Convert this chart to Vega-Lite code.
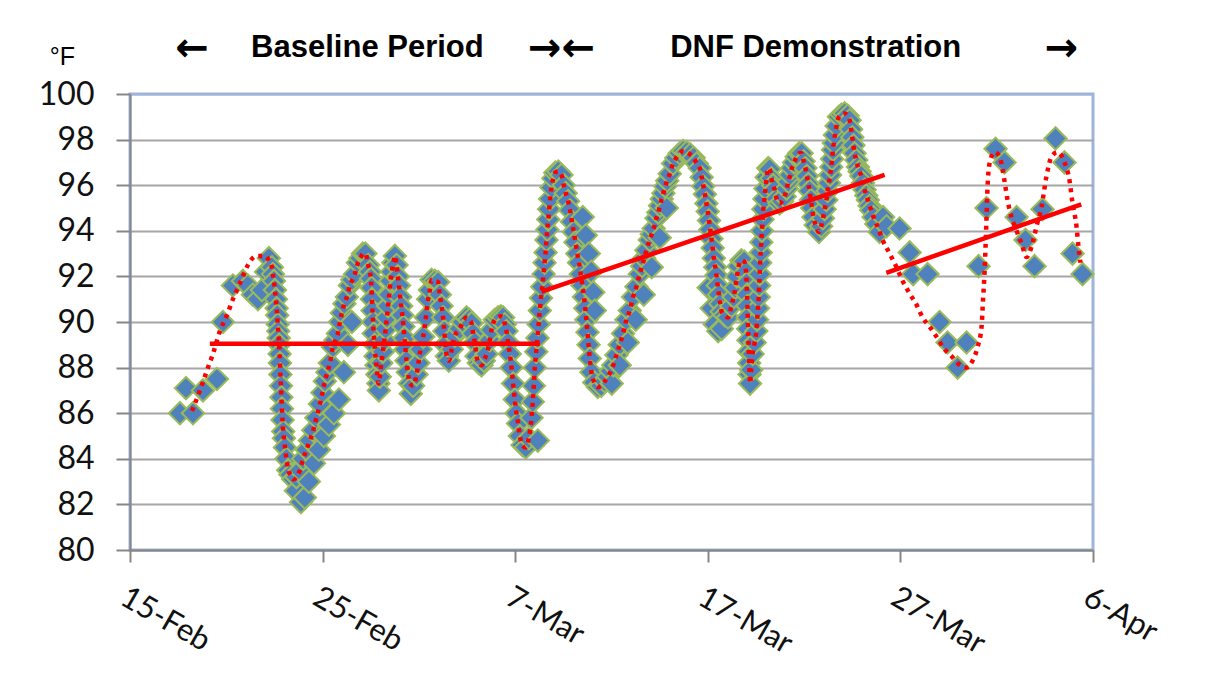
{
"$schema": "https://vega.github.io/schema/vega-lite/v6.json",
"width": 963,
"height": 456,
"autosize": {"type": "none"},
"padding": {"left": 130, "top": 94, "right": 122, "bottom": 144},
"background": "white",
"config": {
  "view": {"stroke": "#9db5d9", "strokeWidth": 3},
  "axis": {"domainColor": "#868686", "domainWidth": 2, "tickColor": "#868686", "tickWidth": 2, "labelFont": "Lato", "labelColor": "#111111", "labelOverlap": false, "labelBound": false}
},
"datasets": {
"temps": [
{"t":"2011-02-17T14:15","v":86.0,"kind":"point"},
{"t":"2011-02-17T21:45","v":87.1,"kind":"point"},
{"t":"2011-02-18T05:15","v":86.1,"kind":"line"},
{"t":"2011-02-18T06:30","v":86.0,"kind":"point"},
{"t":"2011-02-18T15:10","v":87.0,"kind":"line"},
{"t":"2011-02-18T18:55","v":87.0,"kind":"point"},
{"t":"2011-02-19T01:10","v":88.0,"kind":"line"},
{"t":"2011-02-19T07:20","v":88.6,"kind":"line"},
{"t":"2011-02-19T12:20","v":87.5,"kind":"point"},
{"t":"2011-02-19T16:05","v":89.6,"kind":"line"},
{"t":"2011-02-19T19:50","v":90.0,"kind":"point"},
{"t":"2011-02-20T00:50","v":90.3,"kind":"line"},
{"t":"2011-02-20T08:15","v":91.6,"kind":"point"},
{"t":"2011-02-20T08:15","v":91.0,"kind":"line"},
{"t":"2011-02-20T14:30","v":91.5,"kind":"line"},
{"t":"2011-02-20T20:45","v":91.8,"kind":"point"},
{"t":"2011-02-20T20:45","v":92.0,"kind":"line"},
{"t":"2011-02-21T02:55","v":91.6,"kind":"point"},
{"t":"2011-02-21T02:55","v":92.5,"kind":"line"},
{"t":"2011-02-21T09:10","v":91.2,"kind":"point"},
{"t":"2011-02-21T14:10","v":92.9,"kind":"line"},
{"t":"2011-02-21T15:25","v":91.0,"kind":"point"},
{"t":"2011-02-21T20:25","v":91.4,"kind":"point"},
{"t":"2011-02-22T00:10","v":92.9,"kind":"line"},
{"t":"2011-02-22T01:25","v":92.2,"kind":"point"},
{"t":"2011-02-22T05:05","v":92.8,"kind":"point"},
{"t":"2011-02-22T05:05","v":92.7,"kind":"line"},
{"t":"2011-02-22T08:50","v":92.4,"kind":"both"},
{"t":"2011-02-22T10:05","v":92.1,"kind":"both"},
{"t":"2011-02-22T11:20","v":91.8,"kind":"both"},
{"t":"2011-02-22T12:35","v":91.4,"kind":"both"},
{"t":"2011-02-22T13:50","v":91.0,"kind":"both"},
{"t":"2011-02-22T14:45","v":90.6,"kind":"both"},
{"t":"2011-02-22T15:25","v":90.3,"kind":"both"},
{"t":"2011-02-22T16:05","v":89.9,"kind":"both"},
{"t":"2011-02-22T16:40","v":89.6,"kind":"both"},
{"t":"2011-02-22T17:20","v":89.3,"kind":"both"},
{"t":"2011-02-22T17:55","v":89.0,"kind":"both"},
{"t":"2011-02-22T18:25","v":88.6,"kind":"both"},
{"t":"2011-02-22T18:50","v":88.2,"kind":"both"},
{"t":"2011-02-22T19:25","v":87.7,"kind":"both"},
{"t":"2011-02-22T20:05","v":87.2,"kind":"both"},
{"t":"2011-02-22T20:40","v":86.7,"kind":"both"},
{"t":"2011-02-22T21:20","v":86.2,"kind":"both"},
{"t":"2011-02-22T22:05","v":85.7,"kind":"both"},
{"t":"2011-02-22T22:55","v":85.2,"kind":"both"},
{"t":"2011-02-22T23:50","v":84.9,"kind":"both"},
{"t":"2011-02-23T01:05","v":84.5,"kind":"both"},
{"t":"2011-02-23T02:55","v":84.0,"kind":"both"},
{"t":"2011-02-23T05:10","v":83.5,"kind":"both"},
{"t":"2011-02-23T07:55","v":83.3,"kind":"both"},
{"t":"2011-02-23T11:25","v":83.1,"kind":"both"},
{"t":"2011-02-23T14:45","v":82.6,"kind":"point"},
{"t":"2011-02-23T15:20","v":83.2,"kind":"both"},
{"t":"2011-02-23T19:45","v":83.5,"kind":"both"},
{"t":"2011-02-23T21:00","v":82.1,"kind":"point"},
{"t":"2011-02-23T23:50","v":84.0,"kind":"both"},
{"t":"2011-02-24T01:55","v":82.3,"kind":"point"},
{"t":"2011-02-24T04:05","v":84.4,"kind":"both"},
{"t":"2011-02-24T06:55","v":83.0,"kind":"point"},
{"t":"2011-02-24T08:10","v":84.8,"kind":"both"},
{"t":"2011-02-24T12:20","v":85.25,"kind":"both"},
{"t":"2011-02-24T13:10","v":83.8,"kind":"point"},
{"t":"2011-02-24T16:15","v":85.8,"kind":"both"},
{"t":"2011-02-24T19:25","v":84.4,"kind":"point"},
{"t":"2011-02-24T20:40","v":86.4,"kind":"both"},
{"t":"2011-02-24T23:45","v":86.9,"kind":"both"},
{"t":"2011-02-25T01:35","v":85.0,"kind":"point"},
{"t":"2011-02-25T02:50","v":87.4,"kind":"both"},
{"t":"2011-02-25T06:00","v":87.8,"kind":"both"},
{"t":"2011-02-25T07:50","v":85.5,"kind":"point"},
{"t":"2011-02-25T09:05","v":88.2,"kind":"both"},
{"t":"2011-02-25T12:50","v":88.9,"kind":"both"},
{"t":"2011-02-25T14:05","v":86.0,"kind":"point"},
{"t":"2011-02-25T15:55","v":89.2,"kind":"both"},
{"t":"2011-02-25T19:05","v":89.5,"kind":"both"},
{"t":"2011-02-25T20:20","v":86.6,"kind":"point"},
{"t":"2011-02-25T21:35","v":90.0,"kind":"both"},
{"t":"2011-02-26T00:00","v":90.4,"kind":"both"},
{"t":"2011-02-26T02:30","v":87.8,"kind":"point"},
{"t":"2011-02-26T03:10","v":90.8,"kind":"both"},
{"t":"2011-02-26T06:15","v":91.1,"kind":"both"},
{"t":"2011-02-26T07:30","v":89.0,"kind":"point"},
{"t":"2011-02-26T10:00","v":91.6,"kind":"both"},
{"t":"2011-02-26T12:30","v":90.0,"kind":"point"},
{"t":"2011-02-26T13:05","v":91.85,"kind":"both"},
{"t":"2011-02-26T16:15","v":92.1,"kind":"both"},
{"t":"2011-02-26T20:00","v":92.6,"kind":"both"},
{"t":"2011-02-26T23:05","v":92.8,"kind":"both"},
{"t":"2011-02-27T02:10","v":93.0,"kind":"both"},
{"t":"2011-02-27T05:20","v":93.0,"kind":"both"},
{"t":"2011-02-27T08:50","v":92.5,"kind":"both"},
{"t":"2011-02-27T10:55","v":92.2,"kind":"both"},
{"t":"2011-02-27T12:10","v":91.9,"kind":"both"},
{"t":"2011-02-27T12:55","v":91.5,"kind":"both"},
{"t":"2011-02-27T13:30","v":91.0,"kind":"both"},
{"t":"2011-02-27T14:10","v":90.5,"kind":"both"},
{"t":"2011-02-27T14:55","v":90.0,"kind":"both"},
{"t":"2011-02-27T15:45","v":89.5,"kind":"both"},
{"t":"2011-02-27T16:45","v":89.0,"kind":"both"},
{"t":"2011-02-27T17:55","v":88.5,"kind":"both"},
{"t":"2011-02-27T19:10","v":88.1,"kind":"both"},
{"t":"2011-02-27T20:15","v":87.7,"kind":"both"},
{"t":"2011-02-27T21:30","v":87.3,"kind":"both"},
{"t":"2011-02-27T22:05","v":87.0,"kind":"point"},
{"t":"2011-02-27T23:20","v":87.6,"kind":"both"},
{"t":"2011-02-28T01:15","v":88.2,"kind":"both"},
{"t":"2011-02-28T03:05","v":88.7,"kind":"both"},
{"t":"2011-02-28T05:00","v":89.2,"kind":"both"},
{"t":"2011-02-28T06:35","v":89.7,"kind":"both"},
{"t":"2011-02-28T08:05","v":90.2,"kind":"both"},
{"t":"2011-02-28T09:35","v":90.7,"kind":"both"},
{"t":"2011-02-28T11:05","v":91.2,"kind":"both"},
{"t":"2011-02-28T12:40","v":91.8,"kind":"both"},
{"t":"2011-02-28T14:20","v":92.2,"kind":"both"},
{"t":"2011-02-28T16:10","v":92.6,"kind":"both"},
{"t":"2011-02-28T18:05","v":92.9,"kind":"both"},
{"t":"2011-02-28T20:10","v":92.5,"kind":"both"},
{"t":"2011-02-28T21:45","v":92.0,"kind":"both"},
{"t":"2011-02-28T23:15","v":91.6,"kind":"both"},
{"t":"2011-03-01T00:40","v":91.1,"kind":"both"},
{"t":"2011-03-01T02:00","v":90.7,"kind":"both"},
{"t":"2011-03-01T03:25","v":90.3,"kind":"both"},
{"t":"2011-03-01T04:45","v":89.8,"kind":"both"},
{"t":"2011-03-01T06:00","v":89.3,"kind":"both"},
{"t":"2011-03-01T07:15","v":88.8,"kind":"both"},
{"t":"2011-03-01T08:30","v":88.3,"kind":"both"},
{"t":"2011-03-01T10:15","v":87.8,"kind":"both"},
{"t":"2011-03-01T12:45","v":87.3,"kind":"both"},
{"t":"2011-03-01T13:55","v":86.85,"kind":"point"},
{"t":"2011-03-01T16:50","v":87.2,"kind":"both"},
{"t":"2011-03-01T21:05","v":87.7,"kind":"both"},
{"t":"2011-03-01T23:20","v":88.2,"kind":"both"},
{"t":"2011-03-02T02:05","v":88.8,"kind":"both"},
{"t":"2011-03-02T05:20","v":89.35,"kind":"both"},
{"t":"2011-03-02T08:40","v":90.2,"kind":"both"},
{"t":"2011-03-02T11:30","v":91.0,"kind":"both"},
{"t":"2011-03-02T13:40","v":91.4,"kind":"both"},
{"t":"2011-03-02T15:45","v":91.85,"kind":"both"},
{"t":"2011-03-02T19:50","v":91.8,"kind":"both"},
{"t":"2011-03-03T00:00","v":91.75,"kind":"both"},
{"t":"2011-03-03T02:05","v":91.2,"kind":"both"},
{"t":"2011-03-03T04:15","v":90.7,"kind":"both"},
{"t":"2011-03-03T06:10","v":90.2,"kind":"both"},
{"t":"2011-03-03T07:40","v":89.6,"kind":"both"},
{"t":"2011-03-03T08:55","v":89.0,"kind":"both"},
{"t":"2011-03-03T10:50","v":88.5,"kind":"both"},
{"t":"2011-03-03T13:20","v":88.3,"kind":"both"},
{"t":"2011-03-03T17:00","v":88.8,"kind":"both"},
{"t":"2011-03-03T20:45","v":89.4,"kind":"both"},
{"t":"2011-03-04T03:00","v":89.7,"kind":"both"},
{"t":"2011-03-04T06:45","v":90.0,"kind":"both"},
{"t":"2011-03-04T11:20","v":90.2,"kind":"both"},
{"t":"2011-03-04T14:50","v":90.1,"kind":"both"},
{"t":"2011-03-04T17:35","v":89.95,"kind":"both"},
{"t":"2011-03-04T19:35","v":89.5,"kind":"both"},
{"t":"2011-03-04T21:40","v":89.1,"kind":"both"},
{"t":"2011-03-04T23:50","v":88.5,"kind":"both"},
{"t":"2011-03-05T02:40","v":88.2,"kind":"both"},
{"t":"2011-03-05T06:00","v":88.1,"kind":"both"},
{"t":"2011-03-05T08:55","v":88.3,"kind":"both"},
{"t":"2011-03-05T12:15","v":88.6,"kind":"both"},
{"t":"2011-03-05T16:20","v":89.2,"kind":"both"},
{"t":"2011-03-05T18:30","v":89.65,"kind":"both"},
{"t":"2011-03-05T22:35","v":90.1,"kind":"both"},
{"t":"2011-03-06T02:40","v":90.2,"kind":"both"},
{"t":"2011-03-06T06:05","v":90.25,"kind":"both"},
{"t":"2011-03-06T08:55","v":90.2,"kind":"both"},
{"t":"2011-03-06T11:05","v":89.9,"kind":"both"},
{"t":"2011-03-06T13:10","v":89.6,"kind":"both"},
{"t":"2011-03-06T15:10","v":89.1,"kind":"both"},
{"t":"2011-03-06T17:15","v":88.6,"kind":"both"},
{"t":"2011-03-06T19:25","v":88.0,"kind":"both"},
{"t":"2011-03-06T21:25","v":87.3,"kind":"both"},
{"t":"2011-03-06T23:30","v":86.6,"kind":"both"},
{"t":"2011-03-07T01:35","v":86.0,"kind":"both"},
{"t":"2011-03-07T03:35","v":85.55,"kind":"both"},
{"t":"2011-03-07T05:45","v":85.0,"kind":"both"},
{"t":"2011-03-07T09:05","v":84.6,"kind":"both"},
{"t":"2011-03-07T13:10","v":84.5,"kind":"both"},
{"t":"2011-03-07T16:55","v":84.9,"kind":"both"},
{"t":"2011-03-07T20:20","v":85.8,"kind":"both"},
{"t":"2011-03-07T21:55","v":86.5,"kind":"both"},
{"t":"2011-03-07T23:10","v":87.2,"kind":"both"},
{"t":"2011-03-08T00:25","v":88.0,"kind":"both"},
{"t":"2011-03-08T02:15","v":88.7,"kind":"both"},
{"t":"2011-03-08T03:45","v":89.3,"kind":"both"},
{"t":"2011-03-08T04:10","v":84.8,"kind":"point"},
{"t":"2011-03-08T05:10","v":89.9,"kind":"both"},
{"t":"2011-03-08T06:40","v":90.5,"kind":"both"},
{"t":"2011-03-08T08:10","v":91.05,"kind":"both"},
{"t":"2011-03-08T09:45","v":91.55,"kind":"both"},
{"t":"2011-03-08T11:20","v":92.1,"kind":"both"},
{"t":"2011-03-08T12:35","v":92.6,"kind":"both"},
{"t":"2011-03-08T13:50","v":93.05,"kind":"both"},
{"t":"2011-03-08T15:00","v":93.6,"kind":"both"},
{"t":"2011-03-08T16:05","v":94.05,"kind":"both"},
{"t":"2011-03-08T17:15","v":94.5,"kind":"both"},
{"t":"2011-03-08T18:20","v":94.95,"kind":"both"},
{"t":"2011-03-08T19:30","v":95.4,"kind":"both"},
{"t":"2011-03-08T21:15","v":95.9,"kind":"both"},
{"t":"2011-03-08T23:25","v":96.3,"kind":"both"},
{"t":"2011-03-09T01:55","v":96.55,"kind":"both"},
{"t":"2011-03-09T05:40","v":96.6,"kind":"both"},
{"t":"2011-03-09T09:40","v":96.45,"kind":"both"},
{"t":"2011-03-09T12:30","v":96.0,"kind":"both"},
{"t":"2011-03-09T15:00","v":95.65,"kind":"both"},
{"t":"2011-03-09T17:55","v":95.3,"kind":"both"},
{"t":"2011-03-09T20:25","v":94.9,"kind":"both"},
{"t":"2011-03-09T22:45","v":94.4,"kind":"both"},
{"t":"2011-03-10T01:00","v":93.95,"kind":"both"},
{"t":"2011-03-10T03:05","v":93.5,"kind":"both"},
{"t":"2011-03-10T05:20","v":93.0,"kind":"both"},
{"t":"2011-03-10T07:35","v":92.6,"kind":"both"},
{"t":"2011-03-10T09:40","v":92.1,"kind":"both"},
{"t":"2011-03-10T11:50","v":91.6,"kind":"both"},
{"t":"2011-03-10T12:10","v":94.6,"kind":"point"},
{"t":"2011-03-10T13:40","v":91.1,"kind":"both"},
{"t":"2011-03-10T15:20","v":90.6,"kind":"both"},
{"t":"2011-03-10T15:55","v":93.8,"kind":"point"},
{"t":"2011-03-10T16:40","v":90.1,"kind":"both"},
{"t":"2011-03-10T18:05","v":89.55,"kind":"both"},
{"t":"2011-03-10T19:25","v":89.0,"kind":"both"},
{"t":"2011-03-10T19:40","v":93.0,"kind":"point"},
{"t":"2011-03-10T20:55","v":88.4,"kind":"both"},
{"t":"2011-03-10T22:45","v":92.2,"kind":"point"},
{"t":"2011-03-10T23:00","v":87.8,"kind":"both"},
{"t":"2011-03-11T01:15","v":91.3,"kind":"point"},
{"t":"2011-03-11T02:30","v":87.35,"kind":"both"},
{"t":"2011-03-11T03:10","v":90.5,"kind":"point"},
{"t":"2011-03-11T06:55","v":87.15,"kind":"both"},
{"t":"2011-03-11T11:15","v":87.2,"kind":"both"},
{"t":"2011-03-11T15:35","v":87.4,"kind":"both"},
{"t":"2011-03-11T19:40","v":87.6,"kind":"both"},
{"t":"2011-03-11T23:05","v":87.85,"kind":"both"},
{"t":"2011-03-12T00:20","v":87.3,"kind":"point"},
{"t":"2011-03-12T02:10","v":88.1,"kind":"both"},
{"t":"2011-03-12T06:10","v":88.55,"kind":"both"},
{"t":"2011-03-12T10:15","v":89.0,"kind":"both"},
{"t":"2011-03-12T10:15","v":88.1,"kind":"point"},
{"t":"2011-03-12T14:25","v":89.5,"kind":"both"},
{"t":"2011-03-12T18:35","v":90.1,"kind":"both"},
{"t":"2011-03-12T20:15","v":89.1,"kind":"point"},
{"t":"2011-03-12T22:45","v":90.5,"kind":"both"},
{"t":"2011-03-13T02:50","v":91.1,"kind":"both"},
{"t":"2011-03-13T06:10","v":90.1,"kind":"point"},
{"t":"2011-03-13T07:05","v":91.55,"kind":"both"},
{"t":"2011-03-13T11:10","v":92.1,"kind":"both"},
{"t":"2011-03-13T14:05","v":92.45,"kind":"both"},
{"t":"2011-03-13T16:10","v":91.2,"kind":"point"},
{"t":"2011-03-13T16:45","v":92.8,"kind":"both"},
{"t":"2011-03-13T19:30","v":93.15,"kind":"both"},
{"t":"2011-03-13T23:40","v":93.6,"kind":"both"},
{"t":"2011-03-14T02:10","v":93.85,"kind":"both"},
{"t":"2011-03-14T02:10","v":92.4,"kind":"point"},
{"t":"2011-03-14T04:35","v":94.1,"kind":"both"},
{"t":"2011-03-14T08:00","v":94.55,"kind":"both"},
{"t":"2011-03-14T10:15","v":94.8,"kind":"both"},
{"t":"2011-03-14T12:05","v":93.7,"kind":"point"},
{"t":"2011-03-14T12:30","v":95.1,"kind":"both"},
{"t":"2011-03-14T14:35","v":95.4,"kind":"both"},
{"t":"2011-03-14T16:40","v":95.65,"kind":"both"},
{"t":"2011-03-14T18:55","v":95.95,"kind":"both"},
{"t":"2011-03-14T20:50","v":95.0,"kind":"point"},
{"t":"2011-03-14T21:25","v":96.2,"kind":"both"},
{"t":"2011-03-15T00:35","v":96.5,"kind":"both"},
{"t":"2011-03-15T04:40","v":96.95,"kind":"both"},
{"t":"2011-03-15T08:40","v":97.2,"kind":"both"},
{"t":"2011-03-15T13:00","v":97.4,"kind":"both"},
{"t":"2011-03-15T17:20","v":97.5,"kind":"both"},
{"t":"2011-03-15T21:45","v":97.45,"kind":"both"},
{"t":"2011-03-16T02:05","v":97.35,"kind":"both"},
{"t":"2011-03-16T06:25","v":97.2,"kind":"both"},
{"t":"2011-03-16T10:10","v":96.95,"kind":"both"},
{"t":"2011-03-16T13:55","v":96.75,"kind":"both"},
{"t":"2011-03-16T16:25","v":96.35,"kind":"both"},
{"t":"2011-03-16T18:30","v":95.95,"kind":"both"},
{"t":"2011-03-16T20:25","v":95.6,"kind":"both"},
{"t":"2011-03-16T22:15","v":95.2,"kind":"both"},
{"t":"2011-03-16T23:55","v":94.85,"kind":"both"},
{"t":"2011-03-17T01:05","v":91.5,"kind":"point"},
{"t":"2011-03-17T01:30","v":94.45,"kind":"both"},
{"t":"2011-03-17T03:05","v":94.05,"kind":"both"},
{"t":"2011-03-17T04:35","v":93.65,"kind":"both"},
{"t":"2011-03-17T04:50","v":90.6,"kind":"point"},
{"t":"2011-03-17T06:05","v":93.25,"kind":"both"},
{"t":"2011-03-17T07:35","v":92.8,"kind":"both"},
{"t":"2011-03-17T08:35","v":89.9,"kind":"point"},
{"t":"2011-03-17T09:15","v":92.4,"kind":"both"},
{"t":"2011-03-17T10:45","v":92.05,"kind":"both"},
{"t":"2011-03-17T12:20","v":91.6,"kind":"both"},
{"t":"2011-03-17T12:55","v":89.6,"kind":"point"},
{"t":"2011-03-17T13:55","v":91.2,"kind":"both"},
{"t":"2011-03-17T15:35","v":90.8,"kind":"both"},
{"t":"2011-03-17T17:20","v":90.45,"kind":"both"},
{"t":"2011-03-17T17:20","v":89.7,"kind":"point"},
{"t":"2011-03-17T21:05","v":90.3,"kind":"both"},
{"t":"2011-03-18T01:10","v":90.2,"kind":"both"},
{"t":"2011-03-18T05:25","v":90.7,"kind":"both"},
{"t":"2011-03-18T08:15","v":91.1,"kind":"both"},
{"t":"2011-03-18T10:20","v":91.5,"kind":"both"},
{"t":"2011-03-18T12:20","v":92.0,"kind":"both"},
{"t":"2011-03-18T14:30","v":92.45,"kind":"both"},
{"t":"2011-03-18T17:50","v":92.7,"kind":"both"},
{"t":"2011-03-18T21:20","v":92.65,"kind":"both"},
{"t":"2011-03-18T23:35","v":92.2,"kind":"both"},
{"t":"2011-03-19T00:25","v":91.7,"kind":"both"},
{"t":"2011-03-19T00:55","v":91.2,"kind":"both"},
{"t":"2011-03-19T01:25","v":90.7,"kind":"both"},
{"t":"2011-03-19T01:50","v":90.2,"kind":"both"},
{"t":"2011-03-19T02:10","v":89.7,"kind":"both"},
{"t":"2011-03-19T02:40","v":89.2,"kind":"both"},
{"t":"2011-03-19T03:05","v":88.7,"kind":"both"},
{"t":"2011-03-19T03:35","v":88.2,"kind":"both"},
{"t":"2011-03-19T04:05","v":87.7,"kind":"both"},
{"t":"2011-03-19T04:40","v":87.3,"kind":"both"},
{"t":"2011-03-19T06:05","v":87.9,"kind":"both"},
{"t":"2011-03-19T07:55","v":88.6,"kind":"both"},
{"t":"2011-03-19T10:25","v":89.1,"kind":"both"},
{"t":"2011-03-19T12:30","v":89.6,"kind":"both"},
{"t":"2011-03-19T13:30","v":90.1,"kind":"both"},
{"t":"2011-03-19T14:30","v":90.6,"kind":"both"},
{"t":"2011-03-19T15:25","v":91.1,"kind":"both"},
{"t":"2011-03-19T16:00","v":91.6,"kind":"both"},
{"t":"2011-03-19T16:40","v":92.1,"kind":"both"},
{"t":"2011-03-19T17:15","v":92.6,"kind":"both"},
{"t":"2011-03-19T17:55","v":93.05,"kind":"both"},
{"t":"2011-03-19T18:40","v":93.5,"kind":"both"},
{"t":"2011-03-19T19:25","v":94.0,"kind":"both"},
{"t":"2011-03-19T20:15","v":94.5,"kind":"both"},
{"t":"2011-03-19T21:15","v":94.95,"kind":"both"},
{"t":"2011-03-19T22:35","v":95.4,"kind":"both"},
{"t":"2011-03-19T23:50","v":95.85,"kind":"both"},
{"t":"2011-03-20T01:20","v":96.35,"kind":"both"},
{"t":"2011-03-20T03:15","v":96.75,"kind":"both"},
{"t":"2011-03-20T05:05","v":96.7,"kind":"both"},
{"t":"2011-03-20T07:15","v":96.3,"kind":"both"},
{"t":"2011-03-20T09:25","v":96.0,"kind":"both"},
{"t":"2011-03-20T11:20","v":95.8,"kind":"both"},
{"t":"2011-03-20T13:50","v":95.4,"kind":"both"},
{"t":"2011-03-20T17:35","v":95.2,"kind":"both"},
{"t":"2011-03-20T20:40","v":95.3,"kind":"both"},
{"t":"2011-03-20T23:45","v":95.5,"kind":"both"},
{"t":"2011-03-21T02:15","v":95.85,"kind":"both"},
{"t":"2011-03-21T04:30","v":96.15,"kind":"both"},
{"t":"2011-03-21T06:40","v":96.45,"kind":"both"},
{"t":"2011-03-21T08:50","v":96.75,"kind":"both"},
{"t":"2011-03-21T11:35","v":97.0,"kind":"both"},
{"t":"2011-03-21T14:45","v":97.25,"kind":"both"},
{"t":"2011-03-21T17:50","v":97.4,"kind":"both"},
{"t":"2011-03-21T20:55","v":97.4,"kind":"both"},
{"t":"2011-03-21T23:25","v":97.05,"kind":"both"},
{"t":"2011-03-22T01:40","v":96.75,"kind":"both"},
{"t":"2011-03-22T03:35","v":96.4,"kind":"both"},
{"t":"2011-03-22T05:20","v":96.05,"kind":"both"},
{"t":"2011-03-22T06:55","v":95.75,"kind":"both"},
{"t":"2011-03-22T08:30","v":95.35,"kind":"both"},
{"t":"2011-03-22T10:00","v":95.0,"kind":"both"},
{"t":"2011-03-22T11:40","v":94.6,"kind":"both"},
{"t":"2011-03-22T14:25","v":94.25,"kind":"both"},
{"t":"2011-03-22T18:30","v":93.95,"kind":"both"},
{"t":"2011-03-22T21:15","v":94.2,"kind":"both"},
{"t":"2011-03-22T23:30","v":94.55,"kind":"both"},
{"t":"2011-03-23T01:35","v":94.95,"kind":"both"},
{"t":"2011-03-23T03:45","v":95.35,"kind":"both"},
{"t":"2011-03-23T05:20","v":95.75,"kind":"both"},
{"t":"2011-03-23T06:55","v":96.1,"kind":"both"},
{"t":"2011-03-23T08:25","v":96.45,"kind":"both"},
{"t":"2011-03-23T09:55","v":96.8,"kind":"both"},
{"t":"2011-03-23T10:55","v":97.15,"kind":"both"},
{"t":"2011-03-23T11:55","v":97.55,"kind":"both"},
{"t":"2011-03-23T13:05","v":97.85,"kind":"both"},
{"t":"2011-03-23T14:25","v":98.2,"kind":"both"},
{"t":"2011-03-23T16:30","v":98.6,"kind":"both"},
{"t":"2011-03-23T19:25","v":99.0,"kind":"both"},
{"t":"2011-03-23T22:45","v":99.1,"kind":"both"},
{"t":"2011-03-24T02:30","v":99.15,"kind":"both"},
{"t":"2011-03-24T06:15","v":99.05,"kind":"both"},
{"t":"2011-03-24T08:45","v":98.85,"kind":"both"},
{"t":"2011-03-24T10:35","v":98.45,"kind":"both"},
{"t":"2011-03-24T12:05","v":98.1,"kind":"both"},
{"t":"2011-03-24T13:30","v":97.75,"kind":"both"},
{"t":"2011-03-24T14:55","v":97.4,"kind":"both"},
{"t":"2011-03-24T17:05","v":97.1,"kind":"both"},
{"t":"2011-03-24T19:05","v":96.8,"kind":"both"},
{"t":"2011-03-24T21:10","v":96.6,"kind":"both"},
{"t":"2011-03-24T23:20","v":96.4,"kind":"both"},
{"t":"2011-03-25T01:20","v":96.1,"kind":"both"},
{"t":"2011-03-25T03:25","v":95.8,"kind":"both"},
{"t":"2011-03-25T05:30","v":95.55,"kind":"both"},
{"t":"2011-03-25T07:30","v":95.35,"kind":"both"},
{"t":"2011-03-25T09:40","v":95.1,"kind":"both"},
{"t":"2011-03-25T11:45","v":94.9,"kind":"both"},
{"t":"2011-03-25T14:35","v":94.6,"kind":"both"},
{"t":"2011-03-25T18:00","v":94.3,"kind":"both"},
{"t":"2011-03-25T22:05","v":93.95,"kind":"both"},
{"t":"2011-03-26T01:50","v":93.6,"kind":"line"},
{"t":"2011-03-26T02:25","v":94.6,"kind":"point"},
{"t":"2011-03-26T06:50","v":94.2,"kind":"point"},
{"t":"2011-03-26T10:35","v":93.0,"kind":"line"},
{"t":"2011-03-26T19:15","v":92.4,"kind":"line"},
{"t":"2011-03-26T23:00","v":94.1,"kind":"point"},
{"t":"2011-03-27T02:45","v":91.8,"kind":"line"},
{"t":"2011-03-27T11:30","v":93.05,"kind":"point"},
{"t":"2011-03-27T11:30","v":91.25,"kind":"line"},
{"t":"2011-03-27T15:50","v":92.1,"kind":"point"},
{"t":"2011-03-27T20:10","v":90.75,"kind":"line"},
{"t":"2011-03-28T03:40","v":90.2,"kind":"line"},
{"t":"2011-03-28T09:50","v":92.1,"kind":"point"},
{"t":"2011-03-28T12:20","v":89.8,"kind":"line"},
{"t":"2011-03-28T21:05","v":89.35,"kind":"line"},
{"t":"2011-03-29T00:50","v":90.0,"kind":"point"},
{"t":"2011-03-29T07:05","v":88.8,"kind":"line"},
{"t":"2011-03-29T10:45","v":89.1,"kind":"point"},
{"t":"2011-03-29T15:45","v":88.5,"kind":"line"},
{"t":"2011-03-29T23:15","v":88.0,"kind":"point"},
{"t":"2011-03-29T23:15","v":88.2,"kind":"line"},
{"t":"2011-03-30T10:25","v":89.1,"kind":"point"},
{"t":"2011-03-30T10:25","v":88.0,"kind":"line"},
{"t":"2011-03-30T17:55","v":88.3,"kind":"line"},
{"t":"2011-03-31T00:10","v":88.9,"kind":"line"},
{"t":"2011-03-31T01:25","v":92.45,"kind":"point"},
{"t":"2011-03-31T05:10","v":89.8,"kind":"line"},
{"t":"2011-03-31T07:00","v":91.0,"kind":"line"},
{"t":"2011-03-31T08:50","v":92.15,"kind":"line"},
{"t":"2011-03-31T10:05","v":93.3,"kind":"line"},
{"t":"2011-03-31T11:20","v":95.0,"kind":"point"},
{"t":"2011-03-31T11:20","v":94.6,"kind":"line"},
{"t":"2011-03-31T12:35","v":95.9,"kind":"line"},
{"t":"2011-03-31T15:05","v":96.95,"kind":"line"},
{"t":"2011-03-31T21:20","v":97.45,"kind":"line"},
{"t":"2011-03-31T22:35","v":97.6,"kind":"point"},
{"t":"2011-04-01T03:35","v":97.25,"kind":"line"},
{"t":"2011-04-01T07:15","v":96.7,"kind":"line"},
{"t":"2011-04-01T09:45","v":97.0,"kind":"point"},
{"t":"2011-04-01T11:00","v":95.9,"kind":"line"},
{"t":"2011-04-01T13:30","v":95.35,"kind":"line"},
{"t":"2011-04-01T18:30","v":94.6,"kind":"line"},
{"t":"2011-04-02T00:45","v":94.6,"kind":"point"},
{"t":"2011-04-02T00:45","v":94.0,"kind":"line"},
{"t":"2011-04-02T06:55","v":93.45,"kind":"line"},
{"t":"2011-04-02T11:55","v":93.6,"kind":"point"},
{"t":"2011-04-02T13:10","v":92.85,"kind":"line"},
{"t":"2011-04-02T19:25","v":93.3,"kind":"line"},
{"t":"2011-04-02T23:10","v":92.45,"kind":"point"},
{"t":"2011-04-03T01:40","v":94.2,"kind":"line"},
{"t":"2011-04-03T07:50","v":95.05,"kind":"line"},
{"t":"2011-04-03T09:05","v":94.95,"kind":"point"},
{"t":"2011-04-03T14:05","v":96.4,"kind":"line"},
{"t":"2011-04-03T20:20","v":97.25,"kind":"line"},
{"t":"2011-04-04T01:20","v":98.05,"kind":"point"},
{"t":"2011-04-04T03:45","v":97.45,"kind":"line"},
{"t":"2011-04-04T12:30","v":97.0,"kind":"point"},
{"t":"2011-04-04T12:30","v":97.0,"kind":"line"},
{"t":"2011-04-04T18:45","v":96.2,"kind":"line"},
{"t":"2011-04-04T22:30","v":93.0,"kind":"point"},
{"t":"2011-04-04T22:30","v":95.2,"kind":"line"},
{"t":"2011-04-05T03:25","v":94.2,"kind":"line"},
{"t":"2011-04-05T05:55","v":93.3,"kind":"line"},
{"t":"2011-04-05T08:25","v":92.6,"kind":"line"},
{"t":"2011-04-05T10:55","v":92.1,"kind":"point"}
],
"trends": [
{"segment":"baseline","t":"2011-02-19T03:30","v":89.05},
{"segment":"baseline","t":"2011-03-08T06:40","v":89.05},
{"segment":"demo1","t":"2011-03-08T08:45","v":91.33},
{"segment":"demo1","t":"2011-03-26T04:20","v":96.45},
{"segment":"demo2","t":"2011-03-26T06:25","v":92.16},
{"segment":"demo2","t":"2011-04-05T09:20","v":95.16}
],
"notes": [
{"label":"←","part":"arrow","t":"2011-02-18T05:15","v":102},
{"label":"Baseline Period","part":"text","t":"2011-02-27T07:50","v":102},
{"label":"→←","part":"arrow","t":"2011-03-09T09:45","v":102},
{"label":"DNF Demonstration","part":"text","t":"2011-03-22T14:25","v":102},
{"label":"→","part":"arrow","t":"2011-04-04T08:45","v":102}
]
},
"encoding": {
  "x": {"field": "t", "type": "temporal",
    "scale": {"domain": [{"year": 2011, "month": "feb", "date": 15}, {"year": 2011, "month": "apr", "date": 6}], "nice": false},
    "axis": {"values": [{"year": 2011, "month": "feb", "date": 15}, {"year": 2011, "month": "feb", "date": 25}, {"year": 2011, "month": "mar", "date": 7}, {"year": 2011, "month": "mar", "date": 17}, {"year": 2011, "month": "mar", "date": 27}, {"year": 2011, "month": "apr", "date": 6}],
      "format": "%-d-%b", "title": null, "grid": false, "labelAngle": 30, "labelFontSize": 31, "labelPadding": 20, "tickSize": 12, "labelFlush": false}},
  "y": {"field": "v", "type": "quantitative",
    "scale": {"domain": [80, 100], "nice": false, "zero": false},
    "axis": {"values": [80, 82, 84, 86, 88, 90, 92, 94, 96, 98, 100],
      "grid": true, "gridColor": {"condition": {"test": "datum.value === 100", "value": "#9db5d9"}, "value": "#a6a6a6"}, "gridWidth": 2,
      "labelFontSize": 32, "labelPadding": 22, "tickSize": 14,
      "title": "°F", "titleFont": "Liberation Sans", "titleFontSize": 25, "titleFontWeight": "normal", "titleColor": "#000000",
      "titleAngle": 0, "titleAlign": "center", "titleBaseline": "alphabetic", "titleX": -68, "titleY": -30}}
},
"layer": [
  {"data": {"name": "temps"}, "transform": [{"filter": "datum.kind !== 'line'"}],
   "mark": {"type": "point", "shape": "diamond", "filled": true, "size": 500, "fill": "#4f81bd", "stroke": "#9bbb59", "strokeWidth": 2, "opacity": 1}},
  {"data": {"name": "temps"}, "transform": [{"filter": "datum.kind !== 'point'"}],
   "mark": {"type": "line", "color": "#ff0000", "strokeWidth": 4.5, "strokeDash": [4, 5], "interpolate": "monotone"}},
  {"data": {"name": "trends"},
   "mark": {"type": "line", "color": "#ff0000", "strokeWidth": 4.5},
   "encoding": {"detail": {"field": "segment"}}},
  {"data": {"name": "notes"}, "transform": [{"filter": "datum.part === 'text'"}],
   "mark": {"type": "text", "font": "Liberation Sans", "fontWeight": "bold", "fontSize": 31, "baseline": "middle", "align": "center", "color": "#000000"},
   "encoding": {"text": {"field": "label"}}},
  {"data": {"name": "notes"}, "transform": [{"filter": "datum.part === 'arrow'"}],
   "mark": {"type": "text", "font": "DejaVu Sans", "fontWeight": "bold", "fontSize": 40, "baseline": "middle", "align": "center", "color": "#000000", "dy": 1},
   "encoding": {"text": {"field": "label"}}}
]
}
